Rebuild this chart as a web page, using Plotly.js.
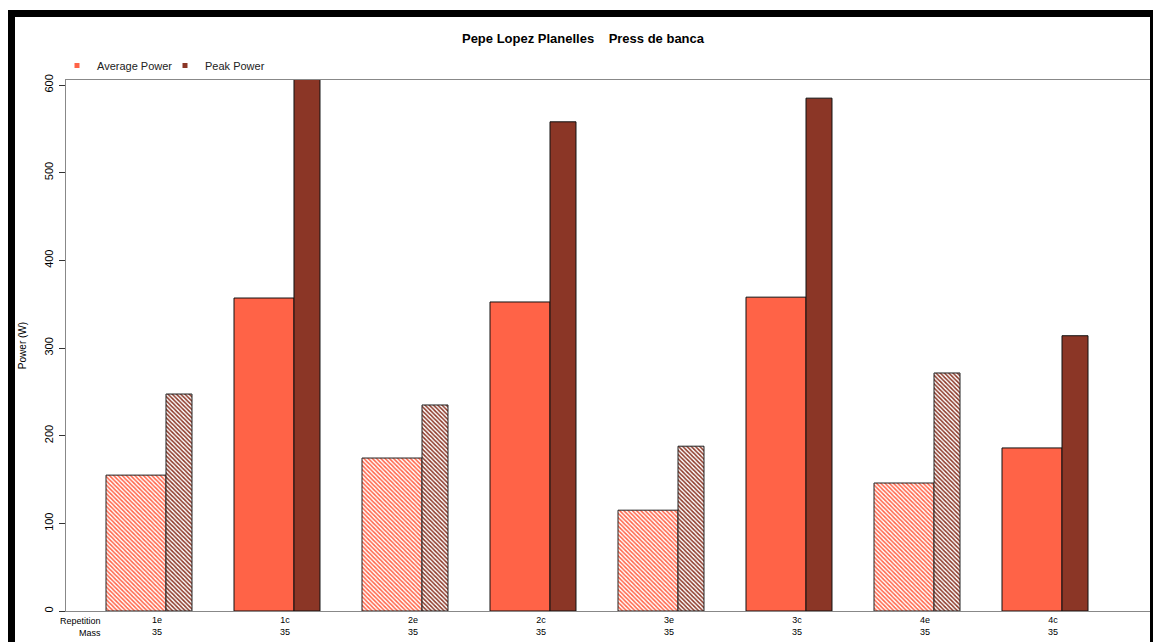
<!DOCTYPE html>
<html>
<head>
<meta charset="utf-8">
<script src="https://cdn.plot.ly/plotly-3.0.1.min.js"></script>
<style>
  html, body { margin: 0; padding: 0; background: #fff; overflow: hidden; }
  #chart { position: absolute; left: 0; top: 0; width: 1153px; height: 642px; }
  #frame { position: absolute; left: 8px; top: 10px; width: 1135px; height: 700px;
           border-left: 7px solid #000; border-top: 7px solid #000; border-right: 7px solid #000;
           pointer-events: none; z-index: 10; }
</style>
</head>
<body>
<div id="chart"></div>
<div id="frame"></div>
<script>
// ---- data ----
const categories = ['1e', '1c', '2e', '2c', '3e', '3c', '4e', '4c'];
const masses = ['35', '35', '35', '35', '35', '35', '35', '35'];
const averagePower = [155, 357, 174.5, 352.5, 115, 358, 146, 186];
const peakPower = [247.5, 612, 235, 558, 188, 585, 271.5, 314];

// ---- styling ----
const AVG = '#FF6347';   // tomato
const PEAK = '#8B3626';  // tomato4
const idx = categories.map((c, i) => i);
const eccIdx = idx.filter(i => categories[i].endsWith('e'));
const conIdx = idx.filter(i => !categories[i].endsWith('e'));
const pick = (arr, ids) => ids.map(i => arr[i]);

function solidBar(ids, vals, col, off, w) {
  return {
    type: 'bar', x: ids, y: pick(vals, ids), offset: off, width: w,
    marker: { color: col, line: { color: '#111', width: 1 } },
    showlegend: false, hoverinfo: 'y'
  };
}
function hatchBar(ids, vals, col, off, w) {
  return {
    type: 'bar', x: ids, y: pick(vals, ids), offset: off, width: w,
    marker: {
      color: 'white', line: { color: '#222', width: 1 },
      pattern: { shape: '\\', fgcolor: col, bgcolor: 'white', fgopacity: 1, size: 3, solidity: 0.5, fillmode: 'overlay' }
    },
    showlegend: false, hoverinfo: 'y'
  };
}

const AVG_OFF = -0.3359, AVG_W = 0.4688, PEAK_OFF = 0.1328, PEAK_W = 0.2031;

const traces = [
  hatchBar(eccIdx, averagePower, AVG, AVG_OFF, AVG_W),
  solidBar(conIdx, averagePower, AVG, AVG_OFF, AVG_W),
  hatchBar(eccIdx, peakPower, PEAK, PEAK_OFF, PEAK_W),
  solidBar(conIdx, peakPower, PEAK, PEAK_OFF, PEAK_W),
  { type: 'scatter', mode: 'markers', x: [null], y: [null], name: 'Average Power',
    marker: { symbol: 'square', size: 5, color: AVG } },
  { type: 'scatter', mode: 'markers', x: [null], y: [null], name: 'Peak Power',
    marker: { symbol: 'square', size: 5, color: PEAK } }
];

const tickText = categories.map((c, i) => c + '<br>' + masses[i]);
const tickVals = idx.map(i => i + 0.0625);

const layout = {
  width: 1153, height: 642,
  margin: { l: 66, r: 3, t: 80, b: 31 },
  paper_bgcolor: 'white', plot_bgcolor: 'white',
  font: { family: 'Liberation Sans, Arial, sans-serif', color: '#000' },
  barmode: 'overlay',
  title: {
    text: '<b>Pepe Lopez Planelles\u00a0\u00a0\u00a0\u00a0Press de banca</b>',
    font: { size: 13, color: '#000' },
    x: 583 / 1153, xanchor: 'center', y: 1 - 38 / 642, yanchor: 'middle'
  },
  showlegend: true,
  legend: {
    orientation: 'h', x: -9 / 1084, xanchor: 'left', y: 1.0, yanchor: 'bottom',
    font: { size: 11, color: '#222' }, itemwidth: 30, bgcolor: 'rgba(0,0,0,0)',
    entrywidth: 63, entrywidthmode: 'pixels',
    traceorder: 'normal'
  },
  xaxis: {
    range: [-0.6484, 7.8203], showgrid: false, zeroline: false,
    tickvals: tickVals, ticktext: tickText, ticks: '',
    tickfont: { size: 9, color: '#000' },
    showline: true, linecolor: '#888', linewidth: 1, mirror: true,
    fixedrange: true
  },
  yaxis: {
    range: [0, 605.7], showgrid: false, zeroline: false,
    tickvals: [0, 100, 200, 300, 400, 500, 600],
    ticks: 'outside', ticklen: 6, tickcolor: '#333', tickwidth: 1,
    ticklabelstandoff: 2,
    tickangle: -90, tickfont: { size: 11, color: '#000' },
    showline: true, linecolor: '#888', linewidth: 1, mirror: true,
    title: { text: 'Power (W)', font: { size: 10, color: '#000' }, standoff: 14 },
    fixedrange: true
  },
  annotations: [
    { xref: 'paper', yref: 'paper', x: 37 / 1084, y: -10 / 531, xanchor: 'right', yanchor: 'middle',
      text: 'Repetition', showarrow: false, font: { size: 9, color: '#000' } },
    { xref: 'paper', yref: 'paper', x: 37 / 1084, y: -22 / 531, xanchor: 'right', yanchor: 'middle',
      text: 'Mass', showarrow: false, font: { size: 9, color: '#000' } }
  ]
};

Plotly.newPlot('chart', traces, layout, { displayModeBar: false, staticPlot: true });
</script>
</body>
</html>
